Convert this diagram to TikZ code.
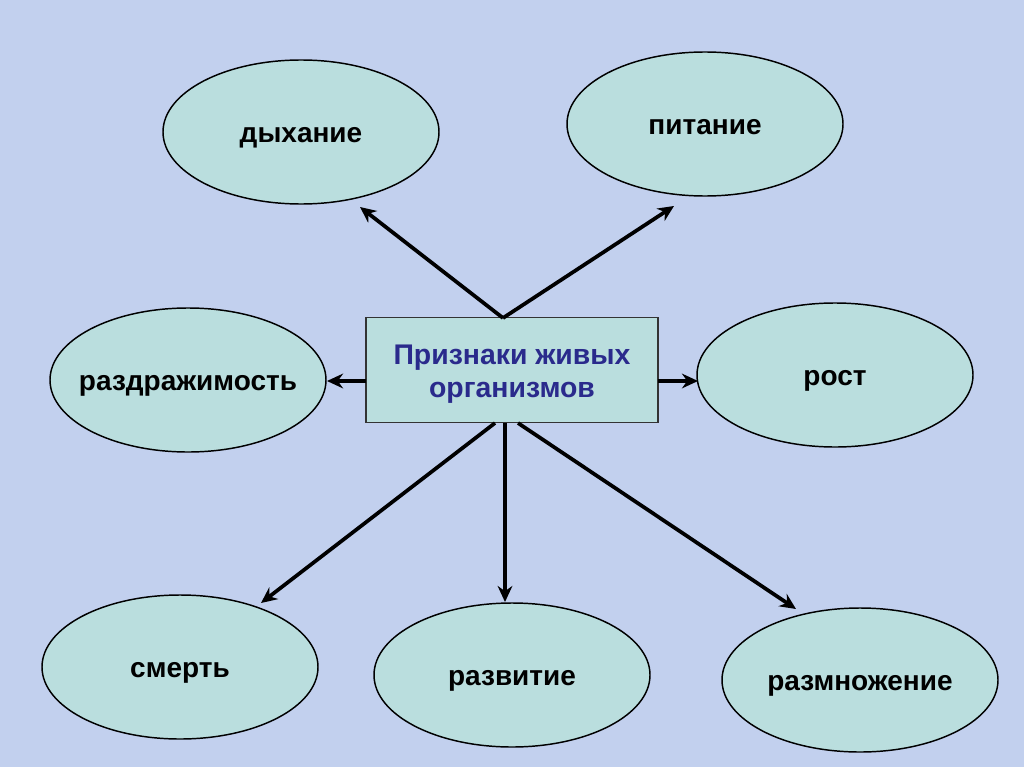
\documentclass[tikz,border=0pt]{standalone}
\usepackage{fontspec}
\setmainfont{Liberation Sans}
\usetikzlibrary{shapes.geometric,arrows.meta}
\definecolor{bgc}{RGB}{194,208,238}
\definecolor{fillc}{RGB}{186,222,222}
\definecolor{titlec}{RGB}{42,42,140}
\newcommand{\zw}[1]{\raisebox{-7.8pt}[0pt][0pt]{\makebox[0pt]{#1}}}
\tikzset{
  oval/.style={ellipse, draw=black, line width=1.1pt, fill=fillc,
    minimum width=207pt, minimum height=108pt, inner sep=0pt,
    font=\bfseries\fontsize{21}{25}\selectfont},
  mainbox/.style={rectangle, draw=black!80, line width=0.8pt, fill=fillc,
    minimum width=219pt, minimum height=79pt, inner sep=0pt,
    text=titlec, font=\bfseries\fontsize{21.3}{25}\selectfont}
  ,arr/.style={line width=2.8pt, -{Stealth[length=12pt,width=11pt]}}
}
\begin{document}
\begin{tikzpicture}[x=0.75pt,y=-0.75pt]
\useasboundingbox (0,0) rectangle (1024,767);
\fill[bgc] (0,0) rectangle (1024,767);
\node[mainbox] (c) at (512,370) {\raisebox{-8.5pt}[0pt][0pt]{\parbox[c]{210pt}{\centering Признаки живых\\организмов}}};
\node[oval] (dy) at (301,132) {\zw{дыхание}};
\node[oval] (pi) at (705,124) {\zw{питание}};
\node[oval] (rz) at (188,380) {\zw{раздражимость}};
\node[oval] (ro) at (835,375) {\zw{рост}};
\node[oval] (sm) at (180,667) {\zw{смерть}};
\node[oval] (rv) at (512,675) {\zw{развитие}};
\node[oval] (rm) at (860,680) {\zw{размножение}};
\coordinate (ct) at (503,318);
\coordinate (cl) at (366,381);
\coordinate (cr) at (658,381);
\coordinate (cb1) at (495,423);
\coordinate (cb2) at (505,423);
\coordinate (cb3) at (518,423);
\coordinate (tdy) at (360,207);
\coordinate (tpi) at (674,206);
\coordinate (trz) at (327,381);
\coordinate (tro) at (698,381);
\coordinate (tsm) at (261,603);
\coordinate (trv) at (505,602);
\coordinate (trm) at (796,609);
\draw[arr] (ct) -- (tdy);
\draw[arr] (ct) -- (tpi);
\draw[arr] (cl) -- (trz);
\draw[arr] (cr) -- (tro);
\draw[arr] (cb1) -- (tsm);
\draw[arr] (cb2) -- (trv);
\draw[arr] (cb3) -- (trm);
\end{tikzpicture}
\end{document}
